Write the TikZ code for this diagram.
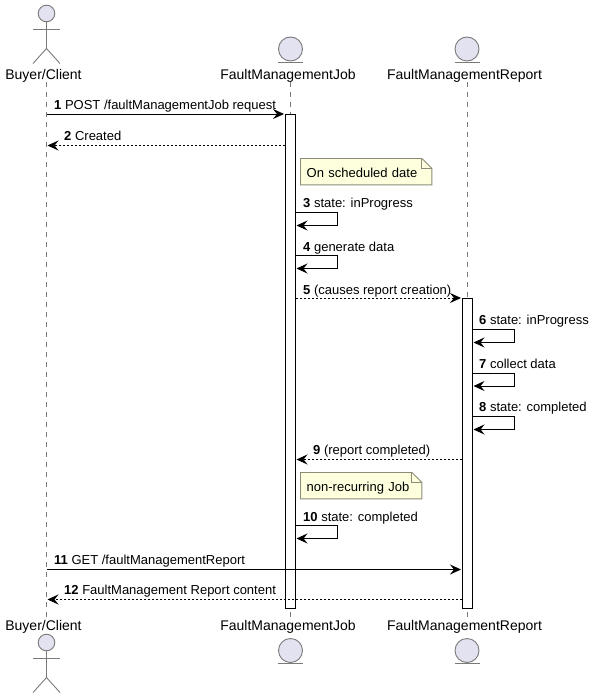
\documentclass[tikz,border=0pt]{standalone}
\usepackage{fontspec}
\setmainfont{Liberation Sans}
\usetikzlibrary{positioning,arrows.meta,calc}
\definecolor{boxfill}{HTML}{E2E2F0}
\definecolor{boxline}{HTML}{7A7A7A}
\definecolor{notefill}{HTML}{FEFFDD}
\definecolor{noteline}{HTML}{8C8C78}
\tikzset{
	seqtip/.style={-{Stealth[length=11pt,width=10pt,inset=4pt]}},
	msg/.style={seqtip,line width=0.9pt,draw=black},
	reply/.style={seqtip,line width=0.9pt,draw=black,dash pattern=on 2pt off 2pt},
	selfmsg/.style={msg},
	lifeline/.style={draw=boxline,line width=0.8pt,dash pattern=on 5pt off 5pt},
	activebar/.style={draw=black,fill=white,line width=0.9pt},
	partname/.style={inner sep=0pt,text height=13.5pt,text depth=2pt,font=\fontsize{14}{16}\selectfont},
	msglabel/.style={anchor=base west,inner sep=0pt,font=\fontsize{13}{15}\selectfont},
	notebox/.style={anchor=north west,fill=notefill,inner xsep=6pt,inner ysep=0pt,minimum height=26pt,
		text height=11pt,text depth=0pt,align=left,font=\fontsize{13}{15}\selectfont},
	figline/.style={draw=boxline,line width=0.9pt}
}
\newcommand{\actorfig}[2]{
	\draw[figline,fill=boxfill] (#1,#2) circle (8.3pt);
	\draw[figline] (#1,#2+8) -- (#1,#2+35);
	\draw[figline] (#1-13.5,#2+16) -- (#1+13.5,#2+16);
	\draw[figline] (#1-13.5,#2+50) -- (#1,#2+35) -- (#1+13.5,#2+50);
}
\newcommand{\entityfig}[2]{
	\draw[figline,fill=boxfill] (#1,#2) circle (12pt);
	\draw[figline] (#1-12.5,#2+13) -- (#1+12.5,#2+13);
}
\newcommand{\foldnote}[1]{
	\fill[white] ($(#1.north east)+(-10,0)$) -- (#1.north east) -- ($(#1.north east)+(0,10)$) -- cycle;
	\draw[noteline,line width=0.9pt] (#1.north west) -- ($(#1.north east)+(-10,0)$) -- ($(#1.north east)+(0,10)$)
		-- (#1.south east) -- (#1.south west) -- cycle;
	\draw[noteline,line width=0.9pt] ($(#1.north east)+(-10,0)$) -- ($(#1.north east)+(-10,10)$) -- ($(#1.north east)+(0,10)$);
}

\begin{document}
\begin{tikzpicture}[x=1pt,y=-1pt]
	\useasboundingbox (0,0) rectangle (595,698);

	% participants
	\node[partname,anchor=base] (clientTop) at (43.5,80) {Buyer/Client};
	\node[partname,anchor=base] (jobTop) at (288,80) {FaultManagementJob};
	\node[partname,anchor=base] (reportTop) at (464.5,80) {FaultManagementReport};
	\node[partname,anchor=base] (clientBot) at (43.5,630.5) {Buyer/Client};
	\node[partname,anchor=base] (jobBot) at (288,630.5) {FaultManagementJob};
	\node[partname,anchor=base] (reportBot) at (464.5,630.5) {FaultManagementReport};

	\coordinate (clientA) at (46.5,82);
	\coordinate (clientB) at (46.5,617);
	\coordinate (jobA) at (290.5,82);
	\coordinate (jobB) at (290.5,617);
	\coordinate (reportA) at (467,82);
	\coordinate (reportB) at (467,617);
	\draw[lifeline] (clientA) -- (clientB);
	\draw[lifeline] (jobA) -- (jobB);
	\draw[lifeline] (reportA) -- (reportB);

	\actorfig{46.5}{13.5}
	\actorfig{46.5}{642.5}
	\entityfig{290.5}{49}
	\entityfig{290.5}{650.5}
	\entityfig{467}{49}
	\entityfig{467}{650.5}

	% activations
	\draw[activebar] (285.5,114) rectangle (295.5,608.5);
	\draw[activebar] (462.5,298) rectangle (472.5,608.5);

	% messages
	\coordinate (m1a) at (46.5,114);
	\coordinate (m1b) at (284,114);
	\coordinate (m2a) at (285,145.5);
	\coordinate (m2b) at (47.5,145.5);
	\coordinate (m5a) at (296,298);
	\coordinate (m5b) at (461,298);
	\coordinate (m9a) at (462,459.5);
	\coordinate (m9b) at (296.5,459.5);
	\coordinate (m11a) at (46.5,569.5);
	\coordinate (m11b) at (461,569.5);
	\coordinate (m12a) at (462,599.5);
	\coordinate (m12b) at (47.5,599.5);
	\draw[msg] (m1a) -- (m1b);
	\draw[reply] (m2a) -- (m2b);
	\draw[reply] (m5a) -- (m5b);
	\draw[reply] (m9a) -- (m9b);
	\draw[msg] (m11a) -- (m11b);
	\draw[reply] (m12a) -- (m12b);

	% self messages
	\coordinate (s3a) at (295.5,212.5);
	\coordinate (s3b) at (296.5,225.5);
	\coordinate (s4a) at (295.5,255.5);
	\coordinate (s4b) at (296.5,268.5);
	\coordinate (s6a) at (472.5,329.5);
	\coordinate (s6b) at (473.5,342.5);
	\coordinate (s7a) at (472.5,373);
	\coordinate (s7b) at (473.5,386);
	\coordinate (s8a) at (472.5,416.5);
	\coordinate (s8b) at (473.5,429.5);
	\coordinate (s10a) at (295.5,525.5);
	\coordinate (s10b) at (296.5,538.5);
	\draw[selfmsg] (s3a) -- ++(42,0) |- (s3b);
	\draw[selfmsg] (s4a) -- ++(42,0) |- (s4b);
	\draw[selfmsg] (s6a) -- ++(42,0) |- (s6b);
	\draw[selfmsg] (s7a) -- ++(42,0) |- (s7b);
	\draw[selfmsg] (s8a) -- ++(42,0) |- (s8b);
	\draw[selfmsg] (s10a) -- ++(42,0) |- (s10b);

	% labels
	\node[msglabel] (lab1) at (54,110) {\textbf{1} POST /faultManagementJob request};
	\node[msglabel] (lab2) at (64,140) {\textbf{2} Created};
	\node[msglabel] (lab3) at (303,207) {\textbf{3} state: inProgress};
	\node[msglabel] (lab4) at (303,251) {\textbf{4} generate data};
	\node[msglabel] (lab5) at (303,294) {\textbf{5} (causes report creation)};
	\node[msglabel] (lab6) at (479,324) {\textbf{6} state: inProgress};
	\node[msglabel] (lab7) at (479,368) {\textbf{7} collect data};
	\node[msglabel] (lab8) at (479,411) {\textbf{8} state: completed};
	\node[msglabel] (lab9) at (313,454) {\textbf{9} (report completed)};
	\node[msglabel] (lab10) at (303,521) {\textbf{10} state: completed};
	\node[msglabel] (lab11) at (54,564) {\textbf{11} GET /faultManagementReport};
	\node[msglabel] (lab12) at (64,594) {\textbf{12} FaultManagement Report content};

	% notes
	\node[notebox,text width=119pt] (note1) at (300.5,158.5) {On scheduled date};
	\foldnote{note1}
	\node[notebox,text width=109pt] (note2) at (300.5,472.5) {non-recurring Job};
	\foldnote{note2}
\end{tikzpicture}
\end{document}
